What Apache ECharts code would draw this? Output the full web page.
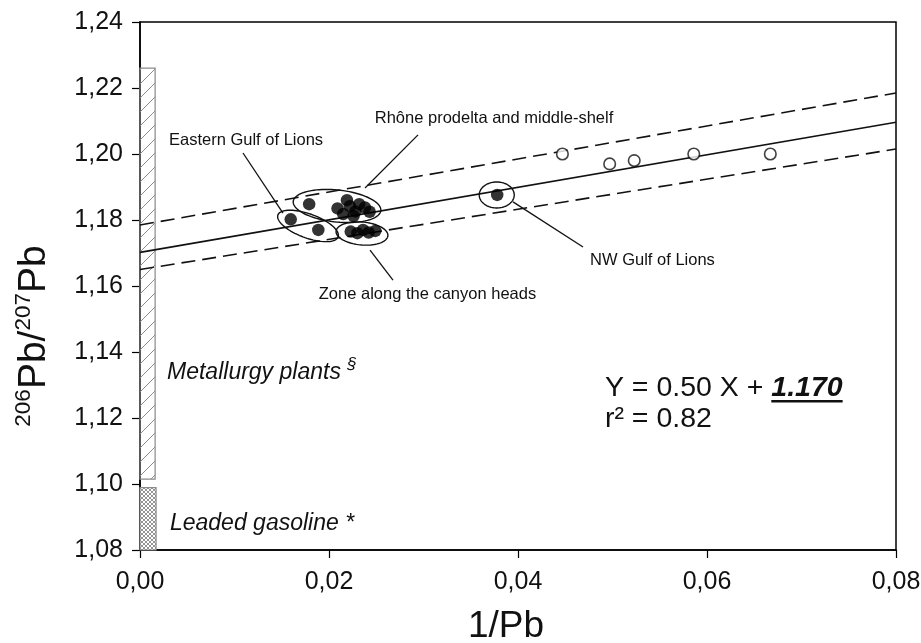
<!DOCTYPE html>
<html><head><meta charset="utf-8">
<script src="https://cdn.jsdelivr.net/npm/echarts@6/dist/echarts.min.js"></script>
<style>html,body{margin:0;padding:0;background:#fff}#c{width:921px;height:643px}</style>
</head><body><div id="c"></div>
<script>
const FONT = '"Liberation Sans", Arial, Helvetica, sans-serif';

// ---- tick labels ----
const xTicks = ['0,00', '0,02', '0,04', '0,06', '0,08'];
const yTicks = ['1,08', '1,10', '1,12', '1,14', '1,16', '1,18', '1,20', '1,22', '1,24'];

// ---- filled circles (shelf surface sediments) ----
const filledX = [0.0179, 0.01595, 0.01887,
  0.0209, 0.0215, 0.0219, 0.0222, 0.0228, 0.0232, 0.0238, 0.0243, 0.0226,
  0.0223, 0.0230, 0.0236, 0.0242, 0.0249,
  0.0378];
const filledY = [1.1848, 1.1802, 1.1770,
  1.1835, 1.1818, 1.1860, 1.1842, 1.1826, 1.1848, 1.1838, 1.1825, 1.1812,
  1.1765, 1.1760, 1.1770, 1.1762, 1.1767,
  1.1876];

// ---- open circles ----
const openX = [0.0447, 0.0497, 0.0523, 0.0586, 0.0667];
const openY = [1.200, 1.197, 1.198, 1.200, 1.200];

// ---- regression line and confidence limits ----
const lineX = [0, 0.08];
const regY = [1.1702, 1.2096];
const upperY = [1.1785, 1.2185];
const lowerY = [1.1650, 1.2015];

// ---- source ranges drawn at the left edge ----
const sourceNames = ['Metallurgy plants', 'Leaded gasoline'];
const sourceX0 = [0, 0];
const sourceX1 = [0.0016, 0.0017];
const sourceLow = [1.1015, 1.080];
const sourceHigh = [1.226, 1.0989];
const sourceLabelX = [0.00286, 0.00317];
const sourceLabelY = [1.1346, 1.0888];
const sourceMarks = ['§', '*'];

// ---- sample groups (ellipses) ----
const groupNames = ['Eastern Gulf of Lions', 'Rhône prodelta and middle-shelf', 'Zone along the canyon heads', 'NW Gulf of Lions'];
const groupCX = [0.01778, 0.02085, 0.02349, 0.03775];
const groupCY = [1.1782, 1.18424, 1.17591, 1.18758];
const groupRX = [0.00339, 0.00466, 0.00275, 0.00185];
const groupRY = [0.00364, 0.00485, 0.00348, 0.00394];
const groupTilt = [20, 6, 5, 0];
const groupLabelX = [0.01122, 0.03746, 0.03042, 0.05423];
const groupLabelY = [1.2042, 1.2107, 1.1573, 1.1676];
const leaderX0 = [0.01090, 0.02942, 0.02434, 0.03947];
const leaderY0 = [1.2003, 1.2058, 1.1709, 1.1855];
const leaderX1 = [0.01513, 0.02381, 0.02677, 0.04688];
const leaderY1 = [1.1821, 1.1897, 1.1618, 1.1718];

// ---- equation ----
const eqText = 'Y = 0.50 X + ';
const eqIntercept = '1.170';
const r2Text = 'r² = 0.82';
const eqX = 0.0492;
const eqY = [1.1290, 1.1196];

// patterns
function makeHatch() {
  const c = document.createElement('canvas'); c.width = 14; c.height = 14;
  const g = c.getContext('2d'); g.strokeStyle = '#8c8c8c'; g.lineWidth = 1;
  g.beginPath(); g.moveTo(0, 14); g.lineTo(14, 0); g.moveTo(-2, 2); g.lineTo(2, -2); g.moveTo(12, 16); g.lineTo(16, 12); g.stroke();
  return c;
}
function makeCross() {
  const c = document.createElement('canvas'); c.width = 4; c.height = 4;
  const g = c.getContext('2d'); g.fillStyle = '#fff'; g.fillRect(0, 0, 4, 4);
  g.strokeStyle = '#7a7a7a'; g.lineWidth = 0.8;
  g.beginPath(); g.moveTo(0, 0); g.lineTo(4, 4); g.moveTo(4, 0); g.lineTo(0, 4); g.stroke();
  return c;
}
const patterns = [makeHatch(), makeCross()];
const measure = document.createElement('canvas').getContext('2d');

const chart = echarts.init(document.getElementById('c'), null, { renderer: 'canvas' });

const pairs = (xs, ys) => xs.map((x, i) => [x, ys[i]]);

const option = {
  animation: false,
  backgroundColor: '#fff',
  grid: { left: 140, right: 25, top: 22, bottom: 93, containLabel: false, outerBoundsMode: 'none',
    show: true, borderColor: '#000', borderWidth: 1.5, backgroundColor: 'transparent' },
  xAxis: {
    type: 'value', min: 0, max: 0.08, interval: 0.02,
    name: '1/Pb', nameLocation: 'middle', nameGap: 58,
    nameTextStyle: { fontFamily: FONT, fontSize: 37, color: '#111', padding: [0, 24, 0, 0] },
    axisLine: { lineStyle: { color: '#000', width: 1.5 } },
    axisTick: { show: true, inside: false, length: 8, lineStyle: { color: '#000', width: 1.2 } },
    axisLabel: { margin: 20, fontFamily: FONT, fontSize: 25, color: '#111',
      formatter: v => xTicks[Math.round(v / 0.02)] },
    splitLine: { show: false }
  },
  yAxis: {
    type: 'value', min: 1.08, max: 1.24, interval: 0.02,
    name: '{s|206}{b|Pb/}{s|207}{b|Pb}', nameLocation: 'middle', nameGap: 86,
    nameTextStyle: {
      padding: [0, 100, 0, 0],
      rich: {
        b: { fontFamily: FONT, fontSize: 39, color: '#111', lineHeight: 42, verticalAlign: 'bottom' },
        s: { fontFamily: FONT, fontSize: 22.5, color: '#111', lineHeight: 22, verticalAlign: 'top' }
      }
    },
    axisLine: { lineStyle: { color: '#000', width: 1.5 } },
    axisTick: { show: true, inside: false, length: 8, lineStyle: { color: '#000', width: 1.2 } },
    axisLabel: { margin: 17, fontFamily: FONT, fontSize: 25, color: '#111',
      formatter: v => yTicks[Math.round((v - 1.08) / 0.02)] },
    splitLine: { show: false }
  },
  series: [
    { // source bars
      type: 'custom', silent: true, z: 1,
      data: sourceNames.map((n, i) => [sourceX0[i], sourceLow[i], sourceX1[i], sourceHigh[i]]),
      encode: { x: [0, 2], y: [1, 3] },
      renderItem(p, api) {
        const i = p.dataIndex;
        const a = api.coord([sourceX0[i], sourceHigh[i]]);
        const b = api.coord([sourceX1[i], sourceLow[i]]);
        return { type: 'rect', shape: { x: a[0], y: a[1], width: b[0] - a[0], height: b[1] - a[1] },
          style: { fill: { image: patterns[i], repeat: 'repeat' }, stroke: '#8a8a8a', lineWidth: 1.2 } };
      }
    },
    { type: 'line', data: pairs(lineX, upperY), symbol: 'none', z: 2,
      lineStyle: { color: '#111', width: 1.6, type: [14, 7] } },
    { type: 'line', data: pairs(lineX, lowerY), symbol: 'none', z: 2,
      lineStyle: { color: '#111', width: 1.6, type: [14, 7] } },
    { type: 'line', data: pairs(lineX, regY), symbol: 'none', z: 2,
      lineStyle: { color: '#111', width: 1.6 } },
    { // ellipses
      type: 'custom', silent: true, z: 3,
      data: pairs(groupCX, groupCY), encode: { x: 0, y: 1 },
      renderItem(p, api) {
        const i = p.dataIndex;
        const c = api.coord([groupCX[i], groupCY[i]]);
        const rx = Math.abs(api.coord([groupCX[i] + groupRX[i], groupCY[i]])[0] - c[0]);
        const ry = Math.abs(api.coord([groupCX[i], groupCY[i] + groupRY[i]])[1] - c[1]);
        const t = groupTilt[i] * Math.PI / 180;
        const pts = [];
        for (let k = 0; k < 90; k++) {
          const a = k / 90 * Math.PI * 2;
          const ex = rx * Math.cos(a), ey = ry * Math.sin(a);
          pts.push([c[0] + ex * Math.cos(t) - ey * Math.sin(t), c[1] + ex * Math.sin(t) + ey * Math.cos(t)]);
        }
        const l0 = api.coord([leaderX0[i], leaderY0[i]]);
        const l1 = api.coord([leaderX1[i], leaderY1[i]]);
        const lc = api.coord([groupLabelX[i], groupLabelY[i]]);
        return { type: 'group', children: [
          { type: 'polygon', shape: { points: pts }, style: { fill: 'none', stroke: '#111', lineWidth: 1.4 } },
          { type: 'line', shape: { x1: l0[0], y1: l0[1], x2: l1[0], y2: l1[1] }, style: { stroke: '#111', lineWidth: 1.3 } },
          { type: 'text', style: { x: lc[0], y: lc[1], text: groupNames[i], font: '16.5px ' + FONT, fill: '#111', align: 'center', verticalAlign: 'middle' } }
        ] };
      }
    },
    { type: 'scatter', data: pairs(filledX, filledY), symbol: 'circle', symbolSize: 12.5, z: 4,
      itemStyle: { color: '#000', borderColor: '#000', borderWidth: 0 } },
    { type: 'scatter', data: pairs(openX, openY), symbol: 'circle', symbolSize: 11.5, z: 4,
      itemStyle: { color: '#fff', borderColor: '#111', borderWidth: 1.6 } },
    { // source labels
      type: 'custom', silent: true, z: 5,
      data: pairs(sourceLabelX, sourceLabelY), encode: { x: 0, y: 1 },
      renderItem(p, api) {
        const i = p.dataIndex;
        const c = api.coord([sourceLabelX[i], sourceLabelY[i]]);
        return { type: 'text', style: { x: c[0], y: c[1], text: '{a|' + sourceNames[i] + ' }{s|' + sourceMarks[i] + '}',
          align: 'left', verticalAlign: 'middle',
          rich: {
            a: { fontFamily: FONT, fontStyle: 'italic', fontSize: 23, fill: '#111', lineHeight: 28, verticalAlign: 'bottom' },
            s: { fontFamily: FONT, fontStyle: 'italic', fontSize: i === 0 ? 17 : 23, fill: '#111', lineHeight: i === 0 ? 17 : 28, verticalAlign: i === 0 ? 'top' : 'bottom' }
          } } };
      }
    },
    { // equation
      type: 'custom', silent: true, z: 5,
      data: [[eqX, eqY[0]]], encode: { x: 0, y: 1 },
      renderItem(p, api) {
        const c = api.coord([eqX, eqY[0]]);
        const c2 = api.coord([eqX, eqY[1]]);
        const fN = '28.5px ' + FONT, fB = 'italic bold 28.5px ' + FONT;
        measure.font = fN; const w1 = measure.measureText(eqText).width;
        measure.font = fB; const w2 = measure.measureText(eqIntercept).width;
        return { type: 'group', children: [
          { type: 'text', style: { x: c[0], y: c[1], text: eqText, font: fN, fill: '#111', align: 'left', verticalAlign: 'middle' } },
          { type: 'text', style: { x: c[0] + w1, y: c[1], text: eqIntercept, font: fB, fill: '#111', align: 'left', verticalAlign: 'middle' } },
          { type: 'line', shape: { x1: c[0] + w1, y1: c[1] + 13, x2: c[0] + w1 + w2, y2: c[1] + 13 }, style: { stroke: '#111', lineWidth: 2.6 } },
          { type: 'text', style: { x: c2[0], y: c2[1], text: r2Text, font: fN, fill: '#111', align: 'left', verticalAlign: 'middle' } }
        ] };
      }
    }
  ]
};
chart.setOption(option);
</script>
</body></html>
